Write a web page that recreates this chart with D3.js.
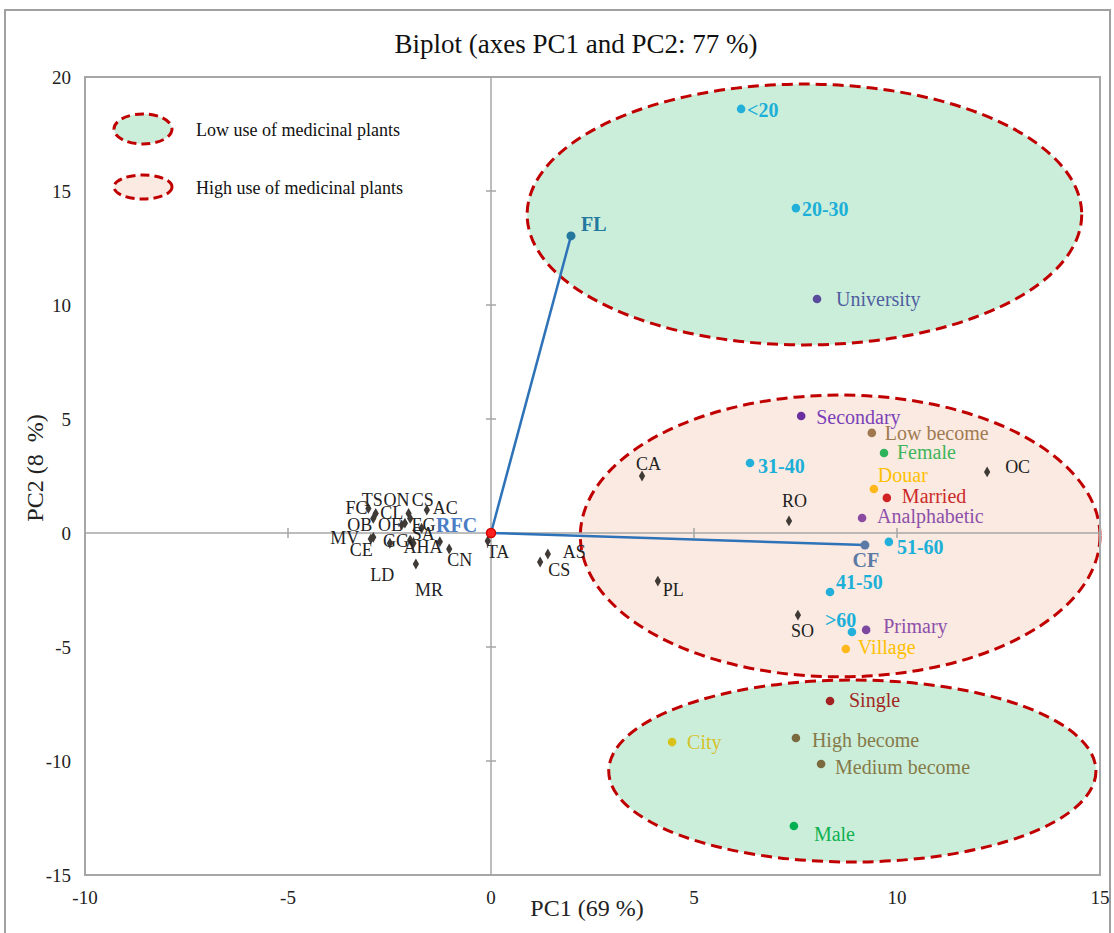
<!DOCTYPE html>
<html>
<head>
<meta charset="utf-8">
<script src="https://cdn.jsdelivr.net/npm/d3@7"></script>
<style>
  html, body { margin: 0; padding: 0; background: #fff; }
  svg { display: block; font-family: "Liberation Serif", "Times New Roman", serif; }
  text { white-space: pre; }
</style>
</head>
<body>
<svg id="chart" width="1114" height="933"></svg>
<script>
// Axis ticks
const xTicks = [-10, -5, 0, 5, 10, 15];
const yTicks = [-15, -10, -5, 0, 5, 10, 15, 20];

// Active variables (vectors from the origin)
const varNames = ["FL", "CF", "RFC"];
const varPC1 = [1.97, 9.21, 0.0];
const varPC2 = [13.03, -0.53, 0.0];

// Observations (species codes)
const obsNames = ["FC", "TS", "OB", "ON", "CL", "CS", "AC", "OE", "EG", "MV", "CE", "GG", "LD", "AHA", "SA", "CN", "MR", "TA", "AS", "CS", "PL", "CA", "RO", "SO", "OC"];
const obsPC1 = [-3.02, -2.84, -2.90, -2.03, -1.99, -1.58, -2.20, -2.12, -1.71, -2.90, -2.96, -2.49, -1.99, -1.91, -1.26, -1.03, -1.85, -0.08, 1.40, 1.21, 4.11, 3.72, 7.34, 7.56, 12.22];
const obsPC2 = [1.08, 0.86, 0.64, 0.86, 0.64, 1.01, 0.35, 0.43, 0.21, -0.19, -0.26, -0.45, -0.31, -0.45, -0.38, -0.70, -1.36, -0.35, -0.92, -1.27, -2.11, 2.50, 0.53, -3.60, 2.68];

// Supplementary categories (informant profile)
const supNames = ["<20", "20-30", "University", "Secondary", "Low become", "Female", "Douar", "Married", "Analphabetic", "31-40", "51-60", "41-50", ">60", "Primary", "Village", "Single", "City", "High become", "Medium become", "Male"];
const supPC1 = [6.16, 7.51, 8.03, 7.64, 9.38, 9.68, 9.43, 9.75, 9.14, 6.38, 9.80, 8.35, 8.89, 9.24, 8.74, 8.35, 4.46, 7.51, 8.13, 7.46];
const supPC2 = [18.60, 14.25, 10.26, 5.13, 4.39, 3.51, 1.93, 1.54, 0.66, 3.07, -0.39, -2.59, -4.34, -4.25, -5.09, -7.37, -9.17, -8.99, -10.13, -12.85];
const supGroup = ["age", "age", "education", "education", "income", "gender", "residence", "family", "education", "age", "age", "age", "age", "education", "residence", "family", "residence", "income", "income", "gender"];

// Use groups outlined on the map (centre and half-axes in PC units)
const groupNames = ["Low use of medicinal plants", "High use of medicinal plants", "Low use of medicinal plants"];
const groupCx = [7.72, 8.60, 8.90];
const groupCy = [13.97, -0.13, -10.44];
const groupRx = [6.83, 6.40, 6.00];
const groupRy = [5.72, 6.18, 3.99];

// ---- styling tables ----
const groupFill = { "Low use of medicinal plants": "#cbeedb", "High use of medicinal plants": "#fbeae1" };

const supStyle = {
  "<20":           { dot: "#22b0da", text: "#1cb0d8", bold: true,  dx: 6,   dy: 8 },
  "20-30":         { dot: "#22b0da", text: "#1cb0d8", bold: true,  dx: 6,   dy: 8 },
  "31-40":         { dot: "#22b0da", text: "#1cb0d8", bold: true,  dx: 8,   dy: 10 },
  "41-50":         { dot: "#22b0da", text: "#1cb0d8", bold: true,  dx: 6,   dy: -3 },
  "51-60":         { dot: "#22b0da", text: "#1cb0d8", bold: true,  dx: 8,   dy: 12 },
  ">60":           { dot: "#22b0da", text: "#1cb0d8", bold: true,  dx: -27, dy: -5 },
  "University":    { dot: "#5a4b9c", text: "#4f5e9f", bold: false, dx: 19,  dy: 7 },
  "Secondary":     { dot: "#6a30a0", text: "#7a40b8", bold: false, dx: 15,  dy: 8 },
  "Analphabetic":  { dot: "#8a4aa2", text: "#8e50aa", bold: false, dx: 15,  dy: 5 },
  "Primary":       { dot: "#7e48a0", text: "#8e50aa", bold: false, dx: 17,  dy: 3 },
  "Low become":    { dot: "#a07850", text: "#a07a52", bold: false, dx: 13,  dy: 7 },
  "High become":   { dot: "#7a6a3e", text: "#857a48", bold: false, dx: 16,  dy: 9 },
  "Medium become": { dot: "#7a6a3e", text: "#857a48", bold: false, dx: 14,  dy: 10 },
  "Female":        { dot: "#2fb35a", text: "#3db55a", bold: false, dx: 13,  dy: 6 },
  "Male":          { dot: "#00b050", text: "#10b050", bold: false, dx: 20,  dy: 15 },
  "Douar":         { dot: "#ffb81c", text: "#ffc000", bold: false, dx: 4,   dy: -7 },
  "Village":       { dot: "#ffb81c", text: "#ffc000", bold: false, dx: 12,  dy: 5 },
  "City":          { dot: "#d8c21a", text: "#d6c22c", bold: false, dx: 15,  dy: 7 },
  "Married":       { dot: "#d02222", text: "#cc2a2a", bold: false, dx: 15,  dy: 5 },
  "Single":        { dot: "#a32222", text: "#a2281e", bold: false, dx: 19,  dy: 6 }
};

// label offsets for observation codes, in drawing order
const obsLabelDx = [-23, -14, -26, -25, -30, -15, 31, -27, -10, -43, -21, -7, -40, -10, -28, -2, -1, -1, 15, 8, 5, -6, -7, -7, 18];
const obsLabelDy = [6, -7, 13, -7, 1, -4, -11, 8, 3, 7, 17, 4, 41, 10, -2, 17, 32, 17, 4, 14, 15, -6, -14, 22, 1];

const varStyle = {
  "FL":  { dot: "#23789e", text: "#23789e", dx: 10, dy: -5, anchor: "start" },
  "CF":  { dot: "#5b7aa6", text: "#5b7aa6", dx: 1,  dy: 22, anchor: "middle" },
  "RFC": { dot: "#ff2020", text: "#4a7dc4", dx: -55, dy: -1, anchor: "start" }
};

// ---- layout ----
const svg = d3.select("#chart");
const x = d3.scaleLinear().domain([-10, 15]).range([85, 1100]);
const y = d3.scaleLinear().domain([-15, 20]).range([875, 77]);

svg.append("rect").attr("width", 1114).attr("height", 933).attr("fill", "#fff");
// outer chart frame
svg.append("rect").attr("x", 5).attr("y", 10).attr("width", 1105).attr("height", 935)
  .attr("fill", "none").attr("stroke", "#a0a0a0").attr("stroke-width", 2);

// title
svg.append("text").attr("x", 576).attr("y", 53).attr("text-anchor", "middle")
  .attr("font-size", 27).attr("fill", "#111").text("Biplot (axes PC1 and PC2: 77 %)");

// group ellipses
const ell = svg.append("g");
groupNames.forEach((g, i) => {
  ell.append("ellipse")
    .attr("cx", x(groupCx[i])).attr("cy", y(groupCy[i]))
    .attr("rx", x(groupCx[i] + groupRx[i]) - x(groupCx[i]))
    .attr("ry", y(groupCy[i]) - y(groupCy[i] + groupRy[i]))
    .attr("fill", groupFill[g])
    .attr("stroke", "#c00000").attr("stroke-width", 3).attr("stroke-dasharray", "11,6");
});

// plot frame
svg.append("rect").attr("x", x(-10)).attr("y", y(20))
  .attr("width", x(15) - x(-10)).attr("height", y(-15) - y(20))
  .attr("fill", "none").attr("stroke", "#a6a6a6").attr("stroke-width", 2);

// zero lines with crossing ticks
const axisG = svg.append("g").attr("stroke", "#a6a6a6").attr("stroke-width", 1.5);
axisG.append("line").attr("x1", x(-10)).attr("x2", x(15)).attr("y1", y(0)).attr("y2", y(0));
axisG.append("line").attr("x1", x(0)).attr("x2", x(0)).attr("y1", y(20)).attr("y2", y(-15));
xTicks.filter(t => t !== 0 && t !== -10 && t !== 15).forEach(t => {
  axisG.append("line").attr("x1", x(t)).attr("x2", x(t)).attr("y1", y(0) - 5).attr("y2", y(0) + 5);
});
yTicks.filter(t => t !== 0 && t !== -15 && t !== 20).forEach(t => {
  axisG.append("line").attr("x1", x(0) - 5).attr("x2", x(0) + 5).attr("y1", y(t)).attr("y2", y(t));
});

// tick labels
svg.append("g").selectAll("text").data(xTicks).join("text")
  .attr("x", d => x(d)).attr("y", 904).attr("text-anchor", "middle")
  .attr("font-size", 19).attr("fill", "#222").text(d => d);
svg.append("g").selectAll("text").data(yTicks).join("text")
  .attr("x", 71).attr("y", d => y(d) + 6.5).attr("text-anchor", "end")
  .attr("font-size", 19).attr("fill", "#222").text(d => d);

// axis titles
svg.append("text").attr("x", 587).attr("y", 916).attr("text-anchor", "middle")
  .attr("font-size", 24).attr("fill", "#222").text("PC1 (69 %)");
svg.append("text").attr("transform", "translate(43,468) rotate(-90)").attr("text-anchor", "middle")
  .attr("font-size", 24).attr("fill", "#222").text("PC2 (8  %)");

// legend
const legY = [129, 187];
const legRy = [15, 12];
["Low use of medicinal plants", "High use of medicinal plants"].forEach((g, i) => {
  svg.append("ellipse").attr("cx", 143).attr("cy", legY[i]).attr("rx", 29).attr("ry", legRy[i])
    .attr("fill", groupFill[g]).attr("stroke", "#c00000").attr("stroke-width", 3).attr("stroke-dasharray", "9,5");
  svg.append("text").attr("x", 196).attr("y", legY[i] + 7).attr("font-size", 18).attr("fill", "#111").text(g);
});

// observations (diamonds)
const diamond = d3.symbol().type(d3.symbolDiamond).size(34);
const obs = obsNames.map((n, i) => ({ n, px: obsPC1[i], py: obsPC2[i], dx: obsLabelDx[i], dy: obsLabelDy[i] }));
const obsG = svg.append("g");
obsG.selectAll("path").data(obs).join("path")
  .attr("d", diamond).attr("transform", d => `translate(${x(d.px)},${y(d.py)})`).attr("fill", "#3f3a36");
obsG.selectAll("text").data(obs).join("text")
  .attr("x", d => x(d.px) + d.dx).attr("y", d => y(d.py) + d.dy)
  .attr("font-size", 18).attr("fill", "#222").text(d => d.n);

// vectors of active variables
const vars = varNames.map((n, i) => ({ n, px: varPC1[i], py: varPC2[i] }));
svg.append("g").selectAll("line").data(vars.filter(d => d.n !== "RFC")).join("line")
  .attr("x1", x(0)).attr("y1", y(0)).attr("x2", d => x(d.px)).attr("y2", d => y(d.py))
  .attr("stroke", "#2e72b8").attr("stroke-width", 2.5);

// supplementary categories
const sup = supNames.map((n, i) => ({ n, px: supPC1[i], py: supPC2[i], g: supGroup[i] }));
const supG = svg.append("g");
supG.selectAll("circle").data(sup).join("circle")
  .attr("cx", d => x(d.px)).attr("cy", d => y(d.py)).attr("r", 4.3)
  .attr("fill", d => supStyle[d.n].dot);
supG.selectAll("text").data(sup).join("text")
  .attr("x", d => x(d.px) + supStyle[d.n].dx).attr("y", d => y(d.py) + supStyle[d.n].dy)
  .attr("font-size", 20).attr("font-weight", d => supStyle[d.n].bold ? "bold" : "normal")
  .attr("fill", d => supStyle[d.n].text).text(d => d.n);

// active variable end points and labels
const varG = svg.append("g");
varG.selectAll("circle").data(vars).join("circle")
  .attr("cx", d => x(d.px)).attr("cy", d => y(d.py)).attr("r", 4.5)
  .attr("fill", d => varStyle[d.n].dot)
  .attr("stroke", d => d.n === "RFC" ? "#d00000" : "none").attr("stroke-width", 1.5);
varG.selectAll("text").data(vars).join("text")
  .attr("x", d => x(d.px) + varStyle[d.n].dx).attr("y", d => y(d.py) + varStyle[d.n].dy)
  .attr("text-anchor", d => varStyle[d.n].anchor)
  .attr("font-size", 20).attr("font-weight", "bold").attr("fill", d => varStyle[d.n].text).text(d => d.n);
</script>
</body>
</html>
